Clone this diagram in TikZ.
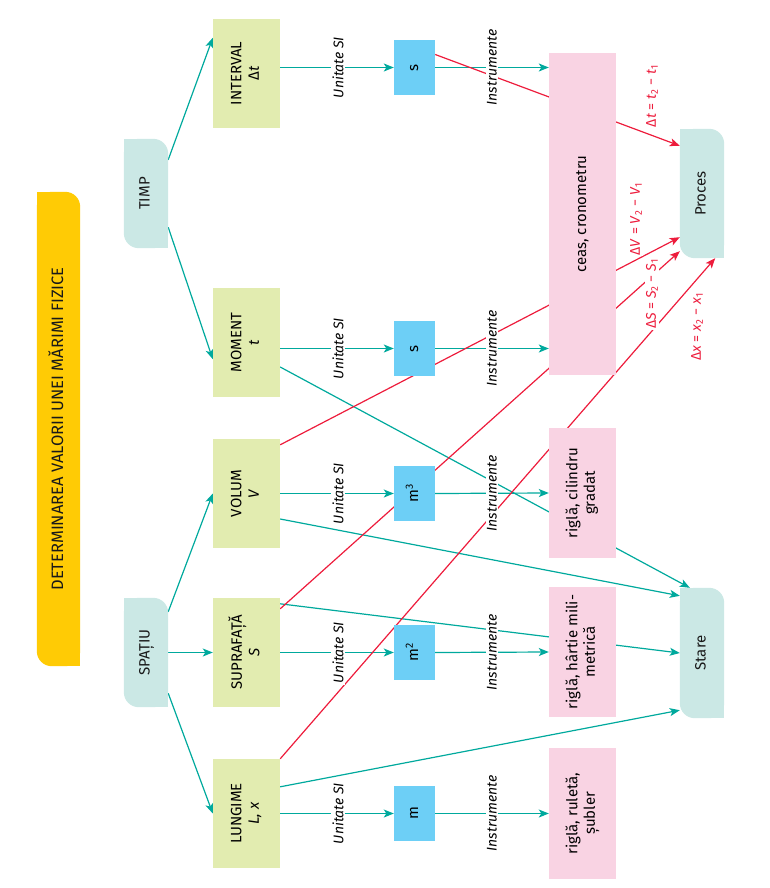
\documentclass[tikz,border=0pt]{standalone}
\usepackage{fontspec}
\setmainfont{Fira Sans}
\usetikzlibrary{arrows.meta, positioning, backgrounds, calc}

\definecolor{tealline}{HTML}{00A99D}
\definecolor{redline}{HTML}{ED1C3C}
\definecolor{titleyellow}{HTML}{FFCB05}
\definecolor{tabteal}{HTML}{CBE8E5}
\definecolor{qgreen}{HTML}{E2ECB0}
\definecolor{unitblue}{HTML}{6DCFF6}
\definecolor{toolpink}{HTML}{F9D3E3}

% vertical text, read from bottom to top
\newcommand{\rottext}[1]{\rotatebox{90}{\begin{tabular}{@{}c@{}}#1\end{tabular}}}
% fill behind a node: rounded top-right and bottom-left corners
\newcommand{\tabfill}[2]{%
	\fill[#2, rounded corners=15pt] (#1.north west) rectangle (#1.south east);
	\fill[#2] (#1.north west) rectangle ([xshift=16pt, yshift=-16pt]#1.north west);
	\fill[#2] (#1.south east) rectangle ([xshift=-16pt, yshift=16pt]#1.south east);
}

\begin{document}
\begin{tikzpicture}[
		x=1pt, y=-1pt,
		font=\fontsize{15pt}{17.5pt}\selectfont,
		>={Stealth[length=10pt, width=8pt, inset=2.5pt]},
		% Styles for the boxes
		tabbox/.style={minimum width=44pt, inner sep=0pt, text=black!90},
		qtybox/.style={fill=qgreen, minimum width=67pt, minimum height=109pt, inner sep=0pt},
		unitbox/.style={fill=unitblue, minimum width=41pt, minimum height=55pt, inner sep=0pt},
		toolbox/.style={fill=toolpink, minimum width=67pt, inner sep=0pt},
		% Labels on the connectors
		linklabel/.style={font=\itshape\fontsize{14pt}{16pt}\selectfont, fill=white, rotate=90, inner sep=1.5pt},
		difflabel/.style={font=\fontsize{14pt}{16pt}\selectfont, text=redline, fill=white, rotate=90, inner sep=1pt},
		% Connectors
		tline/.style={draw=tealline, line width=1.2pt},
		rline/.style={draw=redline, line width=1.2pt}
	]
	\useasboundingbox (0,0) rectangle (770,888);
	
	% ==============================================================================
	% TITLE AND CATEGORIES
	% ==============================================================================
	\node[tabbox, minimum width=43pt, minimum height=474pt, font=\fontsize{16.5pt}{19pt}\selectfont] (title) at (58.5,429) {\rottext{DETERMINAREA VALORII UNEI MĂRIMI FIZICE}};
	\node[tabbox, minimum height=109pt] (timp) at (146,193.5) {\rottext{TIMP}};
	\node[tabbox, minimum height=109pt] (spatiu) at (146,652.5) {\rottext{SPAȚIU}};
	\node[tabbox, minimum height=129pt] (proces) at (702,193.5) {\rottext{Proces}};
	\node[tabbox, minimum height=130pt] (stare) at (702,653) {\rottext{Stare}};
	
	% --- Quantities ---
	\node[qtybox] (interval) at (246.5,73.5) {\rottext{INTERVAL\\Δ\textit{t}}};
	\node[qtybox] (moment) at (246.5,342.5) {\rottext{MOMENT\\\textit{t}}};
	\node[qtybox] (volum) at (246.5,493.5) {\rottext{VOLUM\\\textit{V}}};
	\node[qtybox] (suprafata) at (246.5,652.5) {\rottext{SUPRAFAȚĂ\\\textit{S}}};
	\node[qtybox] (lungime) at (246.5,813.5) {\rottext{LUNGIME\\\textit{L, x}}};
	
	% --- SI units ---
	\node[unitbox] (uInterval) at (414.5,67.5) {\rottext{s}};
	\node[unitbox] (uMoment) at (414.5,348.5) {\rottext{s}};
	\node[unitbox] (uVolum) at (414.5,493.5) {\rottext{m\textsuperscript{3}}};
	\node[unitbox] (uSuprafata) at (414.5,652.5) {\rottext{m\textsuperscript{2}}};
	\node[unitbox] (uLungime) at (414.5,813.5) {\rottext{m}};
	
	% --- Instruments ---
	\node[toolbox, minimum height=322pt] (ceas) at (582.5,214) {\rottext{ceas, cronometru}};
	\node[toolbox, minimum height=130pt] (cilindru) at (582.5,493) {\rottext{riglă, cilindru\\gradat}};
	\node[toolbox, minimum height=130pt] (hartie) at (582.5,652) {\rottext{riglă, hârtie mili-\\metrică}};
	\node[toolbox, minimum height=131pt] (ruleta) at (582.5,813.5) {\rottext{riglă, ruletă,\\șubler}};
	
	% --- Labels on the rows ---
	\foreach \r/\y in {Interval/67.5, Moment/348.5, Volum/493.5, Suprafata/652.5, Lungime/813.5} {
		\node[linklabel] (si\r) at (338,\y) {Unitate SI};
		\node[linklabel] (in\r) at (492,\y) {Instrumente};
	}
	
	% --- Differences ---
	\node[difflabel] (dT) at (652,96) {Δ\textit{t} = \textit{t}\textsubscript{2} − \textit{t}\textsubscript{1}};
	\node[difflabel] (dV) at (636,219) {Δ\textit{V} = \textit{V}\textsubscript{2} − \textit{V}\textsubscript{1}};
	\node[difflabel] (dS) at (652,294) {Δ\textit{S} = \textit{S}\textsubscript{2} − \textit{S}\textsubscript{1}};
	\node[difflabel] (dX) at (697,327) {Δ\textit{x} = \textit{x}\textsubscript{2} − \textit{x}\textsubscript{1}};
	
	% ==============================================================================
	% CONNECTORS
	% ==============================================================================
	\begin{scope}[on background layer]
		% categories to quantities
		\draw[tline, ->] ([yshift=-21pt]timp.north east) -- ([yshift=-19pt]interval.north west);
		\draw[tline, ->] ([yshift=21pt]timp.south east) -- ([yshift=38pt]moment.south west);
		\draw[tline, ->] ([yshift=-14pt]spatiu.north east) -- (volum.west);
		\draw[tline, ->] (spatiu.east) -- (suprafata.west);
		\draw[tline, ->] ([yshift=14pt]spatiu.south east) -- (lungime.west);
		
		% rows: quantity -> unit -> instrument
		\draw[tline, ->] (interval.east |- uInterval.west) -- (uInterval.west);
		\draw[tline, ->] (uInterval.east) -- (uInterval.east -| ceas.west);
		\draw[tline, ->] (moment.east |- uMoment.west) -- (uMoment.west);
		\draw[tline, ->] (uMoment.east) -- (uMoment.east -| ceas.west);
		\draw[tline, ->] (volum.east |- uVolum.west) -- (uVolum.west);
		\draw[tline, ->] (uVolum.east) -- (cilindru.west);
		\draw[tline, ->] (suprafata.east |- uSuprafata.west) -- (uSuprafata.west);
		\draw[tline, ->] (uSuprafata.east) -- (hartie.west);
		\draw[tline, ->] (lungime.east |- uLungime.west) -- (uLungime.west);
		\draw[tline, ->] (uLungime.east) -- (ruleta.west);
		
		% quantities to state
		\draw[tline, ->] ([yshift=-24.5pt]moment.east) -- ([xshift=10pt]stare.north west);
		\draw[tline, ->] ([yshift=-25.5pt]volum.east) -- ([yshift=-8pt]stare.north west);
		\draw[tline, ->] ([yshift=-6pt]suprafata.north east) -- (stare.west);
		\draw[tline, ->] ([yshift=-28pt]lungime.north east) -- ([yshift=8pt]stare.south west);
		
		% quantities to process
		\draw[rline, ->] ([yshift=13pt]uInterval.east) -- ([yshift=-17pt]proces.north west);
		\draw[rline, ->] ([yshift=-6pt]volum.north east) -- ([yshift=21pt]proces.south west);
		\draw[rline, ->] ([yshift=-11pt]suprafata.north east) -- ([yshift=7pt]proces.south west);
		\draw[rline, ->] (lungime.north east) -- ([xshift=-9pt]proces.south east);
	\end{scope}
	
	\begin{scope}[on background layer]
		\tabfill{title}{titleyellow}
		\tabfill{timp}{tabteal}
		\tabfill{spatiu}{tabteal}
		\tabfill{proces}{tabteal}
		\tabfill{stare}{tabteal}
	\end{scope}
	
\end{tikzpicture}
\end{document}
